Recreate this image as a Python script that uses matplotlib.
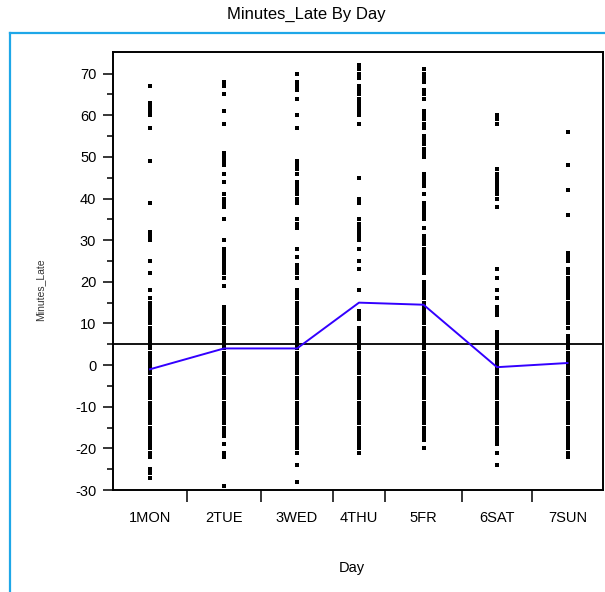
import numpy as np
import matplotlib
matplotlib.use("Agg")
import matplotlib.pyplot as plt
from matplotlib.lines import Line2D

plt.rcParams["font.family"] = ["Liberation Sans", "DejaVu Sans"]
plt.rcParams["axes.unicode_minus"] = False

# --- data -----------------------------------------------------------------------------
days = ["1MON", "2TUE", "3WED", "4THU", "5FR", "6SAT", "7SUN"]
day_counts = [74, 74, 72, 52, 77, 70, 71]          # band widths (JMP scales x by group size)

mon = [67, 63, 62, 61, 60, 57, 49, 39, 32, 31, 30, 25, 22, 18, 16, 15, 14, 13, 12, 11, 10,
       9, 8, 7, 6, 5, 4, 3, 2, 1, 0, -1, -2, -3, -4, -5, -6, -7, -8, -9, -10, -11, -12,
       -13, -14, -15, -16, -17, -18, -19, -20, -21, -22, -25, -26, -27]
tue = [68, 67, 65, 61, 58, 51, 50, 49, 48, 46, 44, 41, 40, 39, 38, 35, 30, 28, 27, 26, 25,
       24, 23, 22, 21, 19, 14, 13, 12, 11, 10, 9, 8, 7, 6, 5, 4, 3, 2, 1, 0, -1, -2, -3,
       -4, -5, -6, -7, -8, -9, -10, -11, -12, -13, -14, -15, -16, -17, -19, -21, -22, -29]
wed = [70, 68, 67, 66, 64, 60, 57, 49, 48, 47, 46, 44, 43, 42, 41, 40, 39, 35, 34, 33, 28,
       26, 24, 23, 22, 21, 18, 17, 16, 15, 14, 13, 12, 11, 10, 9, 8, 7, 6, 5, 4, 3, 2, 1,
       0, -1, -2, -3, -4, -5, -6, -7, -8, -9, -10, -11, -12, -13, -14, -15, -16, -17, -18,
       -19, -20, -21, -24, -28]
thu = [72, 71, 70, 69, 67, 66, 65, 64, 63, 62, 61, 60, 58, 45, 40, 39, 35, 34, 33, 32, 31,
       30, 28, 25, 23, 18, 13, 12, 11, 9, 8, 7, 6, 5, 4, 3, 2, 1, 0, -1, -2, -3, -4, -5, -6,
       -7, -8, -9, -10, -11, -12, -13, -14, -15, -16, -17, -18, -19, -20, -21]
fri = [71, 70, 69, 68, 66, 65, 64, 61, 60, 59, 58, 57, 55, 54, 53, 52, 51, 50, 46, 45, 44,
       43, 41, 39, 38, 37, 36, 35, 33, 31, 30, 29, 28, 27, 26, 25, 24, 23, 22, 20, 19, 18,
       17, 16, 15, 14, 13, 12, 11, 10, 9, 8, 7, 6, 5, 4, 3, 2, 1, 0, -1, -2, -3, -4, -5,
       -6, -7, -8, -9, -10, -11, -12, -13, -14, -15, -16, -17, -18, -20]
sat = [60, 59, 58, 47, 46, 45, 44, 43, 42, 41, 40, 38, 23, 21, 18, 16, 14, 13, 12, 8, 7, 6,
       5, 4, 3, 2, 1, 0, -1, -2, -3, -4, -5, -6, -7, -8, -9, -10, -11, -12, -13, -14, -15,
       -16, -17, -18, -19, -21, -24]
sun = [56, 48, 42, 36, 27, 26, 25, 23, 22, 21, 20, 19, 18, 17, 16, 15, 14, 13, 12, 11, 10,
       9, 7, 6, 5, 4, 3, 2, 1, 0, -1, -2, -3, -4, -5, -6, -7, -8, -9, -10, -11, -12, -13,
       -14, -15, -16, -17, -18, -19, -20, -21, -22]
day_values = [mon, tue, wed, thu, fri, sat, sun]

day_means = [-1, 4, 4, 15, 14.5, -0.5, 0.5]
grand_mean = 5

# --- figure ---------------------------------------------------------------------------
W, H = 605, 592
fig = plt.figure(figsize=(W / 100, H / 100), dpi=100)
ax = fig.add_axes([113 / W, 1 - 490 / H, 490 / W, 438 / H])

edges = np.concatenate([[0], np.cumsum(day_counts)])
centers = (edges[:-1] + edges[1:]) / 2

for c, vals in zip(centers, day_values):
    ax.plot(np.full(len(vals), c), vals, "s", color="black", ms=3.0, mew=0, zorder=2)

ax.axhline(grand_mean, color="black", lw=1.3, zorder=3)
ax.plot(centers, day_means, color="#3300ff", lw=1.4, zorder=4)

ax.set_xlim(edges[0], edges[-1])
ax.set_ylim(-30, 75.2)
ax.set_yticks(np.arange(-30, 71, 10))
ax.set_yticks(np.arange(-25, 71, 10), minor=True)
ax.set_xticks(centers)
ax.set_xticklabels(days)
ax.set_xticks(edges[1:-1], minor=True)

ax.tick_params(axis="y", which="major", length=7, width=1.1, labelsize=10.5, pad=5)
ax.tick_params(axis="y", which="minor", length=4, width=1.1)
ax.tick_params(axis="x", which="major", length=0, labelsize=10.5, pad=15)
ax.tick_params(axis="x", which="minor", length=8.5, width=1.1)
for s in ax.spines.values():
    s.set_linewidth(1.4)

# light blue report frame
frame = "#1ea7e8"
fig.add_artist(Line2D([10 / W, 10 / W], [0, 1 - 33 / H], color=frame, lw=1.6))
fig.add_artist(Line2D([10 / W, 1], [1 - 33 / H, 1 - 33 / H], color=frame, lw=1.6))

fig.text(306 / W, 1 - 14 / H, "Minutes_Late By Day", ha="center", va="center", fontsize=12)
fig.text(352 / W, 1 - 568 / H, "Day", ha="center", va="center", fontsize=10.5)
fig.text(40 / W, 1 - 290 / H, "Minutes_Late", ha="center", va="center", rotation=90,
         fontsize=7.5, color="#333333")

fig.savefig("out.png", dpi=100)
